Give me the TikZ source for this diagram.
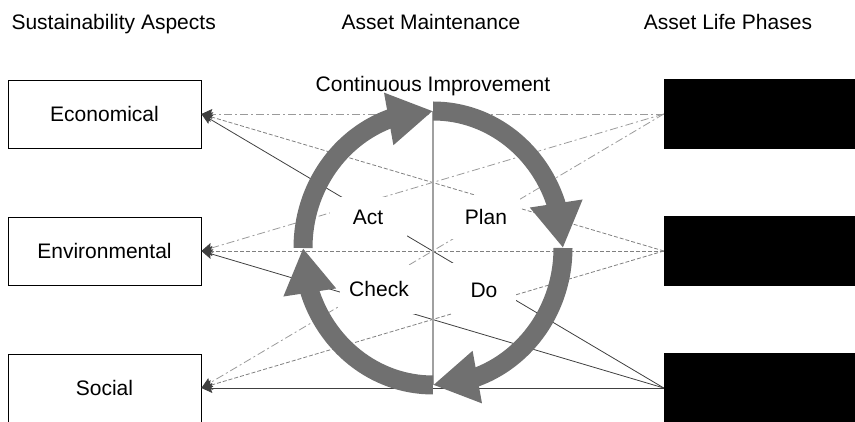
\documentclass[tikz,border=0pt]{standalone}
\usepackage{fontspec}
\setmainfont{Liberation Sans}
\usepackage{tikz}
\usetikzlibrary{arrows.meta, bending, positioning}
\definecolor{CycleGray}{HTML}{707070}
\definecolor{AxisGray}{HTML}{A0A0A0}
\definecolor{LinkLight}{HTML}{9A9A9A}
\definecolor{LinkMid}{HTML}{808080}
\definecolor{LinkDark}{HTML}{404040}

\begin{document}
\begin{tikzpicture}[x=1pt, y=1pt,
    every node/.style={font=\fontsize{21}{25}\selectfont},
    aspect/.style={draw=black, line width=0.8pt, minimum width=193pt, minimum height=68pt, inner sep=0pt},
    phase/.style={fill=black, minimum width=191pt, minimum height=70pt, inner sep=0pt},
    stagebox/.style={fill=white, inner sep=0pt},
    link/.style={line width=0.8pt, -{Stealth[length=11pt, width=10pt, inset=2pt, color=LinkDark]}},
    linkA/.style={link, LinkLight, dash pattern=on 8pt off 3pt on 2pt off 3pt},
    linkB/.style={link, LinkMid, dash pattern=on 4pt off 2pt},
    linkC/.style={link, LinkDark},
    cycarrow/.style={CycleGray, line width=19pt, -{Triangle[length=45pt, width=50pt, flex]}}]
      \useasboundingbox (0,0) rectangle (855,422);

      % column titles
      \node[anchor=base west] (tAspects) at (8,392) {Sustainability Aspects};
      \node[anchor=base] (tMaint) at (431,392) {Asset Maintenance};
      \node[anchor=base] (tPhases) at (728,392) {Asset Life Phases};
      \node[anchor=base] (tCI) at (433,330) {Continuous Improvement};

      % sustainability aspects
      \node[aspect] (econ) at (104.5,308) {Economical};
      \node[aspect] (env) at (104.5,171) {Environmental};
      \node[aspect] (social) at (104.5,34) {Social};

      % asset life phases
      \node[phase] (p1) at (759.5,308) {};
      \node[phase] (p2) at (759.5,171) {};
      \node[phase] (p3) at (759.5,34) {};

      % links
      \foreach \t in {econ,env,social} {
        \draw[linkA] (p1.west) -- (\t.east);
        \draw[linkB] (p2.west) -- (\t.east);
        \draw[linkC] (p3.west) -- (\t.east);
      }

      % PDCA cycle
      \coordinate (cyc) at (433,174);
      \coordinate (vtop) at (433,311);
      \coordinate (vbot) at (433,37);
      \draw[AxisGray, line width=1.5pt] (vtop) -- (vbot);

      \node[stagebox, minimum width=77pt, minimum height=41pt] (act) at (368,204.5) {Act};
      \node[stagebox, minimum width=68pt, minimum height=44pt] (plan) at (486,204.5) {Plan};
      \node[stagebox, minimum width=78pt, minimum height=49pt] (check) at (379,132.5) {Check};
      \node[stagebox, minimum width=64pt, minimum height=55pt] (do) at (484,131.5) {Do};

      \draw[cycarrow] ([shift={(cyc)}]180:130pt and 137pt) arc[start angle=180, end angle=90, x radius=130pt, y radius=137pt];
      \draw[cycarrow] ([shift={(cyc)}]90:130pt and 137pt) arc[start angle=90, end angle=0, x radius=130pt, y radius=137pt];
      \draw[cycarrow] ([shift={(cyc)}]0:130pt and 137pt) arc[start angle=0, end angle=-90, x radius=130pt, y radius=137pt];
      \draw[cycarrow] ([shift={(cyc)}]-90:130pt and 137pt) arc[start angle=-90, end angle=-180, x radius=130pt, y radius=137pt];
    \end{tikzpicture}
\end{document}
